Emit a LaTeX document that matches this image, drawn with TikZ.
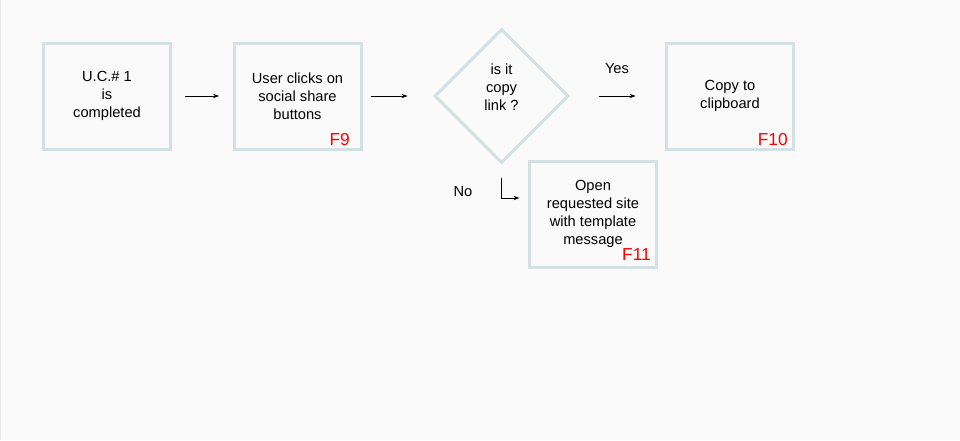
\documentclass[tikz,border=0pt]{standalone}
\usepackage{fontspec}
\setmainfont{Liberation Sans}
\usetikzlibrary{shapes.geometric,arrows.meta}
\definecolor{boxline}{HTML}{D3E0E4}
\definecolor{pagebg}{HTML}{FAFAFA}
\begin{document}
\begin{tikzpicture}[x=0.75pt,y=-0.75pt,
	every node/.style={font=\fontsize{11}{13.6}\selectfont,align=center},
	stepbox/.style={draw=boxline,line width=2.25pt,minimum width=95.25pt,minimum height=79.5pt,inner sep=0pt},
	decision/.style={diamond,draw=boxline,line width=2.25pt,minimum width=100.5pt,minimum height=100.5pt,inner sep=0pt},
	flabel/.style={text=red,font=\fontsize{13}{15}\selectfont,anchor=base east,inner sep=0pt},
	flow/.style={-{Stealth[length=4.5pt,width=3.2pt]},line width=0.7pt}]
	\fill[pagebg] (0,0) rectangle (960,440);
	\useasboundingbox (0,0) rectangle (960,440);
	\draw[black!8,line width=0.75pt] (0.5,0) -- (0.5,440);
	\node[stepbox] (uc) at (107,96) {U.C.\# 1\\is\\completed};
	\node[stepbox] (clicks) at (297.5,96) {User clicks on\\social share\\buttons};
	\node[decision,label={[align=center,yshift=6.75pt]center:is it\\copy\\link ?}] (copylink) at (501.5,96) {};
	\node[stepbox] (clipboard) at (730,96) {Copy to\\clipboard};
	\node[stepbox] (opensite) at (593,214) {Open\\requested site\\with template\\message};
	\node[flabel] (f9) at (350,145) {F9};
	\node[flabel] (f10) at (788,145) {F10};
	\node[flabel] (f11) at (651,260) {F11};
	\node (yes) at (617,69) {Yes};
	\node (no) at (463,192) {No};
	\coordinate (nobend) at (501.5,198);
	\draw[flow,shorten <=10pt,shorten >=10pt] (uc) -- (clicks);
	\draw[flow,shorten <=6.5pt,shorten >=19pt] (clicks) -- (copylink);
	\draw[flow,shorten <=22pt,shorten >=22pt] (copylink) -- (clipboard);
	\draw[flow,shorten <=10pt,shorten >=6.4pt] (copylink.south) -- (nobend) -- (opensite.west |- nobend);
\end{tikzpicture}
\end{document}
